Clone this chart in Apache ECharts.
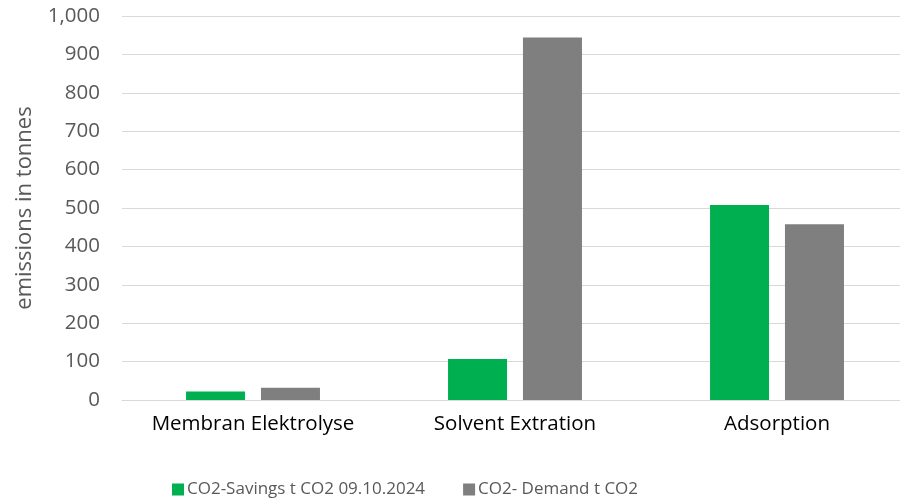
<!DOCTYPE html>
<html>
<head>
<meta charset="utf-8">
<script src="https://cdn.jsdelivr.net/npm/echarts@6/dist/echarts.min.js"></script>
<style>html,body{margin:0;padding:0;background:#fff;overflow:hidden}#c{width:910px;height:500px}</style>
</head>
<body>
<div id="c"></div>
<script>
var categories = ['Membran Elektrolyse', 'Solvent Extration', 'Adsorption'];
var seriesNames = ['CO2-Savings t CO2 09.10.2024', 'CO2- Demand t CO2'];
var savings = [22, 107, 508];
var demand = [32, 944, 458];
var yTicks = [0, 100, 200, 300, 400, 500, 600, 700, 800, 900, 1000];

var font = 'Open Sans';
var chart = echarts.init(document.getElementById('c'));
chart.setOption({
  animation: false,
  textStyle: {fontFamily: font},
  grid: {left: 122, width: 786, top: 16, height: 384, containLabel: false},
  legend: {
    top: 476, left: 167,
    itemWidth: 12, itemHeight: 12, itemGap: 38,
    icon: 'rect',
    textStyle: {fontFamily: font, fontSize: 17, color: '#595959', padding: [0, 0, 0, -2]},
    data: seriesNames
  },
  xAxis: {
    type: 'category', data: categories,
    axisLine: {lineStyle: {color: '#d9d9d9', width: 1}},
    axisTick: {show: false},
    axisLabel: {fontFamily: font, fontSize: 20.5, color: '#000', margin: 14, interval: 0, hideOverlap: false}
  },
  yAxis: {
    type: 'value', min: yTicks[0], max: yTicks[yTicks.length - 1], interval: 100,
    name: 'emissions in tonnes', nameLocation: 'middle', nameGap: 86, nameRotate: 90,
    nameTextStyle: {fontFamily: font, fontSize: 22, color: '#595959'},
    axisLine: {show: false}, axisTick: {show: false},
    axisLabel: {fontFamily: font, fontSize: 20.5, color: '#595959', margin: 22,
      formatter: function (v) { return v.toLocaleString('en-US'); }},
    splitLine: {lineStyle: {color: '#d9d9d9', width: 1}}
  },
  series: [
    {name: seriesNames[0], type: 'bar', data: savings, barWidth: 59, barGap: '27%',
     itemStyle: {color: '#00B050'}},
    {name: seriesNames[1], type: 'bar', data: demand, barWidth: 59,
     itemStyle: {color: '#7F7F7F'}}
  ]
});
</script>
</body>
</html>
